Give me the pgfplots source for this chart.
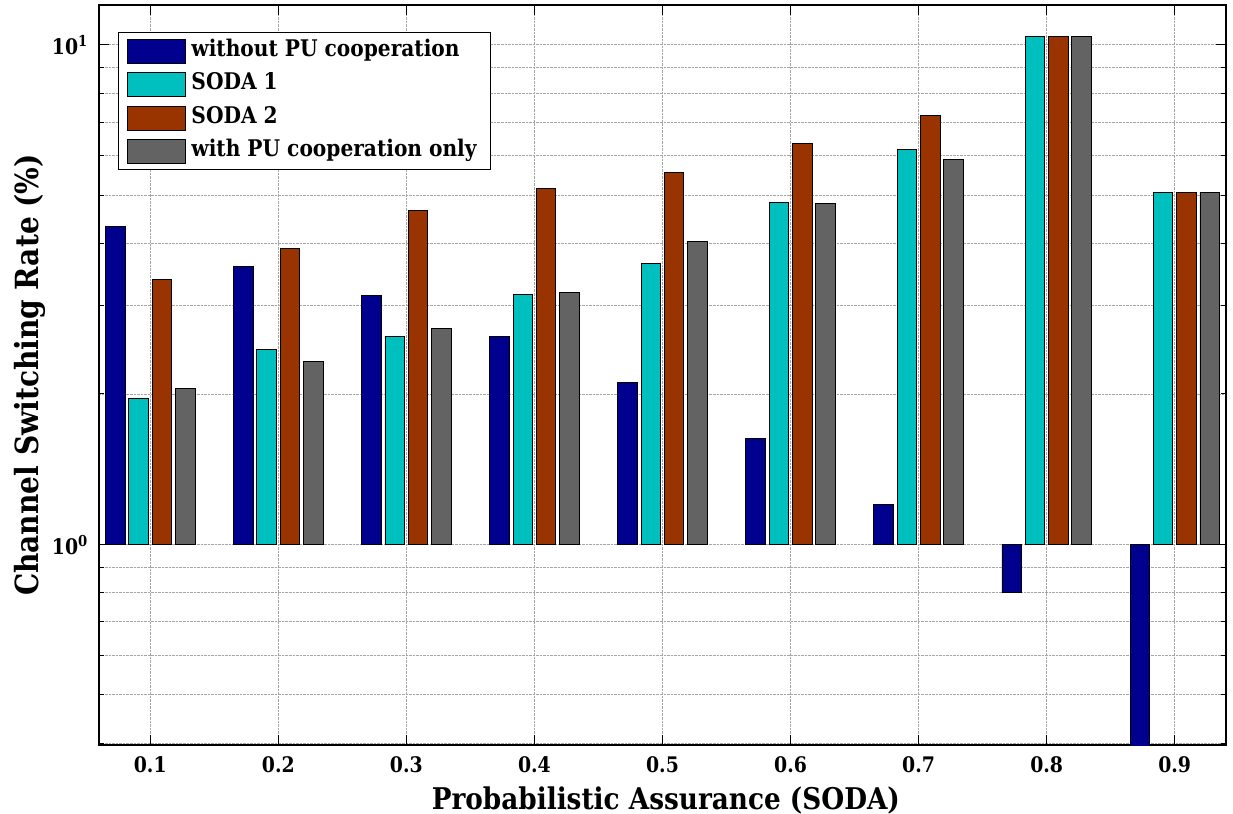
\documentclass[border=0pt]{standalone}
\usepackage{fontspec}
\setmainfont{DejaVu Serif}[FakeStretch=0.88]
\usepackage{pgfplots}
\pgfplotsset{compat=1.18}
\definecolor{cBlue}{RGB}{0,0,143}
\definecolor{cCyan}{RGB}{0,191,191}
\definecolor{cRed}{RGB}{153,51,0}
\definecolor{cGray}{RGB}{99,99,99}
\newcommand\tickfont{\fontsize{21.5}{25}\selectfont\bfseries}
\newcommand\legfont{\fontsize{23}{27}\selectfont\bfseries}
\newcommand\xlabfont{\fontsize{30}{35}\selectfont\bfseries}
\newcommand\ylabfont{\fontsize{32}{37}\selectfont\bfseries}
\begin{document}
\begin{tikzpicture}
\path[use as bounding box] (0,0) rectangle (1233bp,814bp);
\begin{axis}[
  at={(99bp,69bp)}, anchor=south west,
  scale only axis, width=1127bp, height=740bp,
  xmin=0.06, xmax=0.94,
  ymode=log, ymin=0.397, ymax=12,
  ybar=3.8bp, bar width=19.5bp,
  axis line style={line width=1.2bp, black},
  xtick={0.1,0.2,0.3,0.4,0.5,0.6,0.7,0.8,0.9},
  xticklabels={0.1,0.2,0.3,0.4,0.5,0.6,0.7,0.8,0.9},
  ytick={1,10},
  yticklabels={10\textsuperscript{0},10\textsuperscript{1}},
  minor ytick={0.4,0.5,0.6,0.7,0.8,0.9,2,3,4,5,6,7,8,9},
  tick align=inside,
  major tick length=10bp, minor tick length=5bp,
  tick style={line width=1bp, black},
  grid=both,
  major grid style={densely dotted, line width=0.9bp, gray!70},
  minor grid style={densely dotted, line width=0.9bp, gray!70},
  xticklabel style={font=\tickfont, anchor=base, yshift=-27bp},
  yticklabel style={font=\tickfont, anchor=base east, inner sep=0pt, xshift=-11bp, yshift=-9.7bp},
  xlabel={Probabilistic Assurance (SODA)},
  ylabel={Channel Switching Rate (\%)},
  xlabel style={font=\xlabfont, at={(axis description cs:0.503,-0.0865)}, anchor=base, inner sep=0pt},
  ylabel style={font=\ylabfont, at={(axis description cs:-0.047,0.5)}, anchor=south, inner sep=0pt},
  legend image code/.code={\draw[#1, line width=0.8bp] (0bp,-12bp) rectangle (58bp,12bp);},
  legend cell align=left,
  legend style={at={(axis description cs:0.017,0.9635)}, anchor=north west,
    draw=black, line width=1bp, font=\legfont, fill=white,
    inner xsep=8bp, inner ysep=5bp, row sep=6.5bp,
    nodes={inner xsep=6bp, inner ysep=2bp, text height=17bp, text depth=6bp}},
]
\addplot[fill=cBlue, draw=black, line width=0.8bp] coordinates {
(0.1,4.33) (0.2,3.60) (0.3,3.15) (0.4,2.61) (0.5,2.11) (0.6,1.63) (0.7,1.20) (0.8,0.80) (0.9,0.30)};
\addplot[fill=cCyan, draw=black, line width=0.8bp] coordinates {
(0.1,1.96) (0.2,2.45) (0.3,2.61) (0.4,3.16) (0.5,3.65) (0.6,4.84) (0.7,6.17) (0.8,10.39) (0.9,5.07)};
\addplot[fill=cRed, draw=black, line width=0.8bp] coordinates {
(0.1,3.39) (0.2,3.91) (0.3,4.66) (0.4,5.15) (0.5,5.55) (0.6,6.34) (0.7,7.21) (0.8,10.39) (0.9,5.07)};
\addplot[fill=cGray, draw=black, line width=0.8bp] coordinates {
(0.1,2.05) (0.2,2.32) (0.3,2.71) (0.4,3.19) (0.5,4.04) (0.6,4.81) (0.7,5.89) (0.8,10.39) (0.9,5.07)};
\legend{without PU cooperation, SODA 1, SODA 2, with PU cooperation only}
\end{axis}
\end{tikzpicture}
\end{document}
